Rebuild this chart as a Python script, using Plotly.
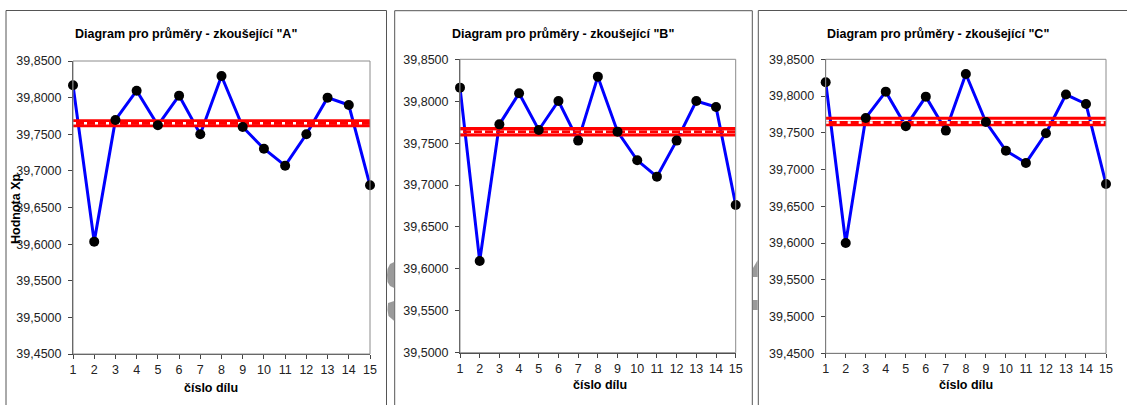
import plotly.graph_objects as go

W, H = 1127, 405

parts = list(range(1, 16))
xp_A = [39.8168, 39.6034, 39.7695, 39.8095, 39.7622, 39.8027, 39.7499, 39.8295,
        39.7599, 39.7303, 39.7071, 39.7499, 39.8000, 39.7899, 39.6803]
xp_B = [39.8162, 39.6094, 39.7724, 39.8094, 39.7657, 39.8003, 39.7530, 39.8293,
        39.7637, 39.7295, 39.7100, 39.7530, 39.8003, 39.7931, 39.6762]
xp_C = [39.8187, 39.6001, 39.7702, 39.8060, 39.7588, 39.7992, 39.7530, 39.8300,
        39.7647, 39.7257, 39.7090, 39.7493, 39.8020, 39.7892, 39.6804]
ucl = [39.7685, 39.7675, 39.7699]
cl = [39.7649, 39.7636, 39.7640]
lcl = [39.7615, 39.7597, 39.7610]

titles = ['Diagram pro průměry - zkoušející "A"',
          'Diagram pro průměry - zkoušející "B"',
          'Diagram pro průměry - zkoušející "C"']
x_title = "číslo dílu"
y_title = "Hodnota Xp"

yticks_A = [39.45, 39.50, 39.55, 39.60, 39.65, 39.70, 39.75, 39.80, 39.85]
yticks_B = [39.50, 39.55, 39.60, 39.65, 39.70, 39.75, 39.80, 39.85]
yticks_C = [39.45, 39.50, 39.55, 39.60, 39.65, 39.70, 39.75, 39.80, 39.85]

series = [xp_A, xp_B, xp_C]
yticks = [yticks_A, yticks_B, yticks_C]

# layout in pixels (left, right, top, bottom) of plot areas
plot_px = [(73, 370, 61, 354), (460, 735.7, 59.3, 352.7), (825.7, 1106, 59.3, 353.3)]
box_px = [(6, 386.5, 10.5), (394.7, 752.3, 10.7), (758.3, 1140, 10.5)]
title_px = [(186, 34), (562.5, 34), (937.5, 34)]
xtitle_px = [(211, 387.5), (600, 384.5), (965.7, 385)]

def fx(p):
    return p / W

def fy(p):
    return 1 - p / H

def path(pts, curve=False):
    s = ""
    for k, (px, py) in enumerate(pts):
        s += ("M " if k == 0 else " L ") + f"{fx(px):.5f},{fy(py):.5f}"
    return s + " Z"

FONT = "Liberation Sans, Arial, sans-serif"
FS = 12.5

fig = go.Figure()
shapes = []
annotations = []

for i in range(3):
    xa = "x" if i == 0 else f"x{i+1}"
    ya = "y" if i == 0 else f"y{i+1}"
    # data line
    fig.add_trace(go.Scatter(x=parts, y=series[i], mode="lines",
                             line=dict(color="#0000FF", width=3),
                             xaxis=xa, yaxis=ya, hoverinfo="skip", cliponaxis=False))
    # control limit lines
    for v in (ucl[i], lcl[i], cl[i]):
        fig.add_trace(go.Scatter(x=[parts[0], parts[-1]], y=[v, v], mode="lines",
                                 line=dict(color="#FF0000", width=3),
                                 xaxis=xa, yaxis=ya, hoverinfo="skip"))
    fig.add_trace(go.Scatter(x=[parts[0], parts[-1]], y=[cl[i], cl[i]], mode="lines",
                             line=dict(color="#FFFFFF", width=2.5, dash="3px,8px"),
                             xaxis=xa, yaxis=ya, hoverinfo="skip"))
    # markers
    fig.add_trace(go.Scatter(x=parts, y=series[i], mode="markers",
                             marker=dict(color="#000000", size=10),
                             xaxis=xa, yaxis=ya, hoverinfo="skip", cliponaxis=False))

    l, r, t, b = plot_px[i]
    xkey = "xaxis" if i == 0 else f"xaxis{i+1}"
    ykey = "yaxis" if i == 0 else f"yaxis{i+1}"
    fig.layout[xkey] = dict(domain=[fx(l), fx(r)], range=[1, 15], anchor=ya,
                            automargin=False,
                            tickvals=parts, ticktext=[str(p) for p in parts],
                            ticks="outside", ticklen=4, tickcolor="#444",
                            showline=True, linecolor="#444", linewidth=1,
                            showgrid=False, zeroline=False,
                            tickfont=dict(family=FONT, size=FS, color="#222"))
    fig.layout[ykey] = dict(domain=[fy(b), fy(t)], range=[yticks[i][0], yticks[i][-1]],
                            anchor=xa, automargin=False,
                            tickvals=yticks[i],
                            ticktext=[f"{v:.4f}".replace(".", ",") for v in yticks[i]],
                            ticks="outside", ticklen=4, tickcolor="#444",
                            ticklabelstandoff=4,
                            showline=True, linecolor="#444", linewidth=1,
                            showgrid=False, zeroline=False,
                            tickfont=dict(family=FONT, size=FS, color="#222"))
    # plot area frame (top/right in grey)
    shapes.append(dict(type="rect", xref="paper", yref="paper",
                       x0=fx(l), x1=fx(r), y0=fy(b), y1=fy(t),
                       line=dict(color="#8C8C8C", width=1), layer="above"))
    # panel box
    bl, br, bt = box_px[i]
    shapes.append(dict(type="rect", xref="paper", yref="paper",
                       x0=fx(bl), x1=fx(br), y0=-0.1, y1=fy(bt),
                       line=dict(color="#555555", width=1), layer="below"))
    # titles
    tx, ty = title_px[i]
    annotations.append(dict(text=f"<b>{titles[i]}</b>", xref="paper", yref="paper",
                            x=fx(tx), y=fy(ty), xanchor="center", yanchor="middle",
                            showarrow=False, font=dict(family=FONT, size=FS, color="#000")))
    ax, ay = xtitle_px[i]
    annotations.append(dict(text=f"<b>{x_title}</b>", xref="paper", yref="paper",
                            x=fx(ax), y=fy(ay), xanchor="center", yanchor="middle",
                            showarrow=False, font=dict(family=FONT, size=FS, color="#000")))

annotations.append(dict(text=f"<b>{y_title}</b>", xref="paper", yref="paper",
                        x=fx(16), y=fy(209), xanchor="center", yanchor="middle",
                        textangle=-90, showarrow=False,
                        font=dict(family=FONT, size=FS, color="#000")))

# faint background watermark fragments visible between the panels
wm = [
    [(394.2, 262), (390, 264), (387.5, 269), (387, 275), (387.5, 282), (390, 286), (394.2, 288)],
    [(394.2, 301), (388, 303), (387.5, 310), (388.5, 316), (394.2, 321)],
    [(757.7, 260), (753, 268), (753, 277), (757.7, 277)],
    [(753, 300), (757.7, 300), (757.7, 310), (753, 310)],
]
for pts in wm:
    shapes.append(dict(type="path", xref="paper", yref="paper", path=path(pts),
                       fillcolor="#9A9A9A", line=dict(width=0), layer="below"))

fig.update_layout(template="none", width=W, height=H,
                  margin=dict(l=0, r=0, t=0, b=0, pad=0, autoexpand=False),
                  paper_bgcolor="white", plot_bgcolor="white", showlegend=False,
                  shapes=shapes, annotations=annotations)

fig.write_html("out.html", config={"displayModeBar": False},
               post_script="document.body.style.margin='0px';document.body.style.overflow='hidden';")
